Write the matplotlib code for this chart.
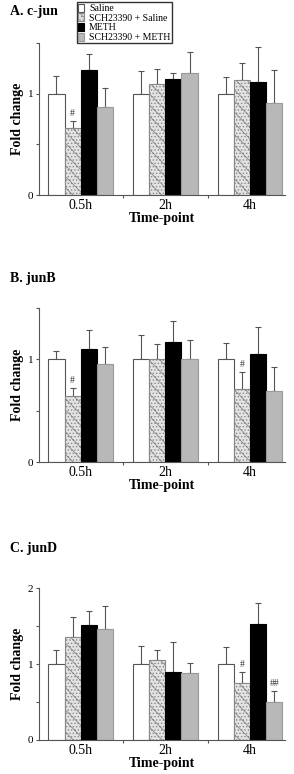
import numpy as np
import matplotlib.pyplot as plt

plt.rcParams['font.family'] = ['Liberation Serif', 'DejaVu Serif']
plt.rcParams['hatch.linewidth'] = 0.6

timepoints = ['0.5h', '2h', '4h']
groups = ['Saline', 'SCH23390 + Saline', 'METH', 'SCH23390 + METH']

# A. c-jun
cjun_saline = [1.0, 1.0, 1.0]
cjun_saline_err = [0.18, 0.23, 0.17]
cjun_sch = [0.66, 1.10, 1.14]
cjun_sch_err = [0.07, 0.15, 0.17]
cjun_meth = [1.24, 1.15, 1.12]
cjun_meth_err = [0.15, 0.06, 0.34]
cjun_schmeth = [0.87, 1.21, 0.91]
cjun_schmeth_err = [0.19, 0.20, 0.33]

# B. junB
junb_saline = [1.0, 1.0, 1.0]
junb_saline_err = [0.08, 0.24, 0.16]
junb_sch = [0.64, 1.0, 0.71]
junb_sch_err = [0.08, 0.15, 0.17]
junb_meth = [1.10, 1.17, 1.05]
junb_meth_err = [0.19, 0.20, 0.27]
junb_schmeth = [0.96, 1.0, 0.69]
junb_schmeth_err = [0.16, 0.19, 0.24]

# C. junD
jund_saline = [1.0, 1.0, 1.0]
jund_saline_err = [0.18, 0.24, 0.22]
jund_sch = [1.36, 1.05, 0.75]
jund_sch_err = [0.26, 0.13, 0.14]
jund_meth = [1.51, 0.89, 1.53]
jund_meth_err = [0.19, 0.40, 0.27]
jund_schmeth = [1.46, 0.88, 0.50]
jund_schmeth_err = [0.31, 0.13, 0.14]

# significance marks: (timepoint index, group index, text)
cjun_marks = [(0, 1, '#')]
junb_marks = [(0, 1, '#'), (2, 1, '#')]
jund_marks = [(2, 1, '#'), (2, 3, '##')]

styles = [
    dict(color='white', edgecolor='#555555', hatch=None),
    dict(color='#e4e4e4', edgecolor='#888888', hatch='\\\\\\.....'),
    dict(color='black', edgecolor='black', hatch=None),
    dict(color='#b8b8b8', edgecolor='#999999', hatch=None),
]

panels = [
    ('A. c-jun', [cjun_saline, cjun_sch, cjun_meth, cjun_schmeth],
     [cjun_saline_err, cjun_sch_err, cjun_meth_err, cjun_schmeth_err],
     cjun_marks, 1.5, [0.748, 0.944], 0.993),
    ('B. junB', [junb_saline, junb_sch, junb_meth, junb_schmeth],
     [junb_saline_err, junb_sch_err, junb_meth_err, junb_schmeth_err],
     junb_marks, 1.5, [0.403, 0.602], 0.648),
    ('C. junD', [jund_saline, jund_sch, jund_meth, jund_schmeth],
     [jund_saline_err, jund_sch_err, jund_meth_err, jund_schmeth_err],
     jund_marks, 2.0, [0.044, 0.240], 0.300),
]

fig = plt.figure(figsize=(2.94, 7.74), dpi=100)
x = np.arange(len(timepoints))
w = 0.19
handles = []

for title, vals, errs, marks, ymax, (bot, top), ty in panels:
    ax = fig.add_axes([0.133, bot, 0.836, top - bot])
    for i, (v, e, st) in enumerate(zip(vals, errs, styles)):
        pos = x + (i - 1.5) * w
        b = ax.bar(pos, v, w, color=st['color'], edgecolor=st['edgecolor'],
                   hatch=st['hatch'], linewidth=0.8, zorder=2)
        ax.errorbar(pos, v, yerr=[np.zeros(len(v)), e], fmt='none',
                    ecolor='#555555', elinewidth=0.8, capsize=2, capthick=0.8, zorder=1)
        if title.startswith('A'):
            handles.append(b)
    for t, g, txt in marks:
        ypos = vals[g][t] + errs[g][t]
        ax.text(x[t] + (g - 1.5) * w, ypos + 0.02 * ymax, txt, ha='center',
                va='bottom', fontsize=7, color='#333333')
    ax.set_xlim(-0.49, 2.41)
    ax.set_ylim(0, ymax)
    ax.spines['top'].set_visible(False)
    ax.spines['right'].set_visible(False)
    ax.spines['left'].set_color('#555555')
    ax.spines['bottom'].set_color('#555555')
    yt = np.arange(0, ymax + 0.01, 0.5)
    ax.set_yticks(yt)
    ax.set_yticklabels(['%d' % t if t == int(t) else '' for t in yt], fontsize=8)
    ax.set_xticks([0.5, 1.5])
    ax.set_xticklabels([])
    ax.set_xticks(x, minor=True)
    ax.set_xticklabels(timepoints, minor=True, fontsize=10)
    ax.tick_params(axis='x', which='minor', length=0, pad=3)
    ax.tick_params(axis='x', which='major', length=2, color='#555555')
    ax.tick_params(axis='y', length=2, pad=2, color='#555555')
    ax.set_ylabel('Fold change', fontsize=10, fontweight='bold', labelpad=3)
    ax.set_xlabel('Time-point', fontsize=10, fontweight='bold', labelpad=0)
    fig.text(0.035, ty, title, fontsize=10, fontweight='bold', va='top')

fig.legend(handles, groups, loc='upper left', bbox_to_anchor=(0.262, 0.997),
           fontsize=7, frameon=True, fancybox=False, edgecolor='black',
           handlelength=0.6, handleheight=0.9, handletextpad=0.5,
           labelspacing=0.02, borderpad=0.15, borderaxespad=0)

fig.savefig('out.png', dpi=100)
